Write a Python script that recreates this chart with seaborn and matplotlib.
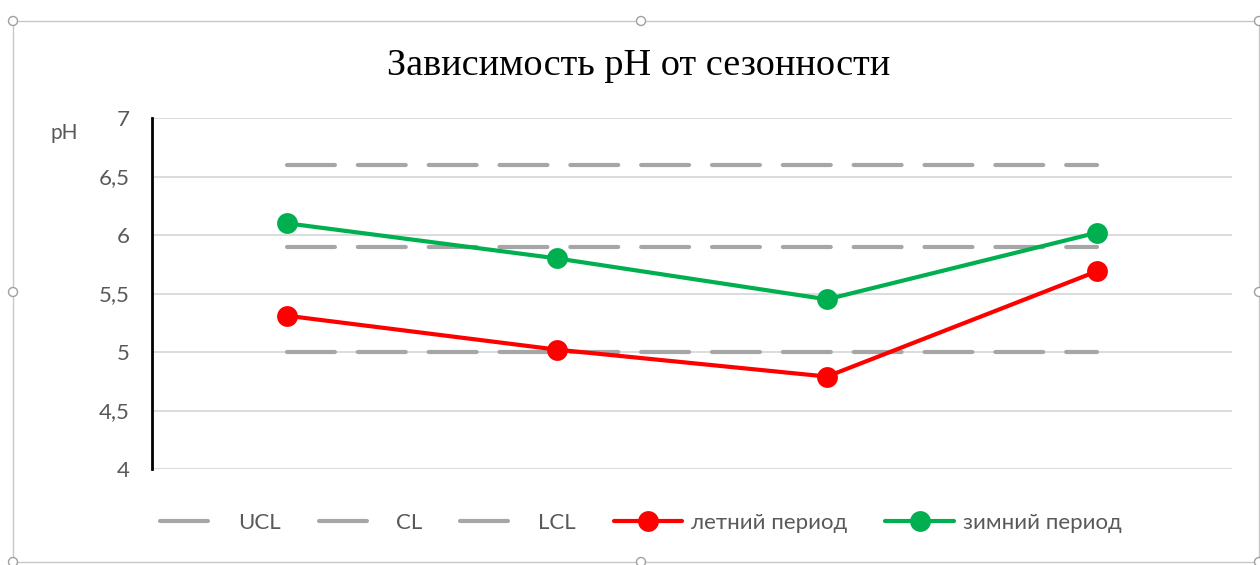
import matplotlib.pyplot as plt
import seaborn as sns
from matplotlib.patches import Rectangle, Ellipse

# Данные
points = [0, 1, 2, 3]
ucl = [6.6, 6.6, 6.6, 6.6]
cl = [5.9, 5.9, 5.9, 5.9]
lcl = [5.0, 5.0, 5.0, 5.0]
summer = [5.31, 5.02, 4.79, 5.69]
winter = [6.10, 5.80, 5.45, 6.02]
y_ticks = [4, 4.5, 5, 5.5, 6, 6.5, 7]

sns.set_style("white")
plt.rcParams['font.family'] = ['Lato', 'DejaVu Sans']

W, H = 1260, 565
fig = plt.figure(figsize=(W / 100, H / 100), dpi=100)
ax = fig.add_axes([152 / W, 1 - 469 / H, 1080 / W, 351 / H])

gray = "#a6a6a6"
for vals, name in [(ucl, "UCL"), (cl, "CL"), (lcl, "LCL")]:
    sns.lineplot(x=points, y=vals, ax=ax, color=gray, linewidth=3,
                 label=name)
    ax.lines[-1].set_dashes([11.5, 5.5])
    ax.lines[-1].set_dash_capstyle("round")

sns.lineplot(x=points, y=summer, ax=ax, color="#ff0000", linewidth=3,
             marker="o", markersize=15, markeredgewidth=0, label="летний период")
sns.lineplot(x=points, y=winter, ax=ax, color="#00b050", linewidth=3,
             marker="o", markersize=15, markeredgewidth=0, label="зимний период")

ax.set_xlim(-0.5, 3.5)
ax.set_ylim(4, 7)
ax.set_yticks(y_ticks)
ax.set_yticklabels([str(t).replace(".", ",") for t in y_ticks],
                   color="#595959", fontsize=16)
ax.set_xticks([])
ax.set_xlabel("")
ax.tick_params(axis="y", length=0, pad=16)
ax.yaxis.grid(True, color="#d9d9d9", linewidth=1.3)
ax.set_axisbelow(True)
for s in ["top", "right", "bottom"]:
    ax.spines[s].set_visible(False)
ax.spines["left"].set_color("black")
ax.spines["left"].set_linewidth(2)

fig.text(639 / W, 1 - 66 / H, "Зависимость pH от сезонности", fontsize=27.5,
         family="Liberation Serif", color="black", ha="center", va="center")
fig.text(50 / W, 1 - 133 / H, "pH", fontsize=15, color="#595959", va="center")

ax.legend(loc="center", bbox_to_anchor=((641 - 152) / 1080, (469 - 523) / 351),
          ncol=5, frameon=False, fontsize=16, handlelength=3.1,
          handletextpad=0.4, columnspacing=1.7, labelcolor="#595959")

# рамка объекта диаграммы
fig.patches.append(Rectangle((13 / W, 1 - 562 / H), 1246 / W, 541 / H,
                             transform=fig.transFigure, fill=False,
                             edgecolor="#c8c8c8", linewidth=1))
for hx, hy in [(13, 21), (641, 21), (1259, 21), (13, 292), (1259, 292),
               (13, 562), (641, 562), (1259, 562)]:
    fig.patches.append(Ellipse((hx / W, 1 - hy / H), 9 / W, 9 / H,
                               transform=fig.transFigure, facecolor="white",
                               edgecolor="#a0a0a0", linewidth=1, zorder=5))

fig.savefig("out.png", dpi=100)
